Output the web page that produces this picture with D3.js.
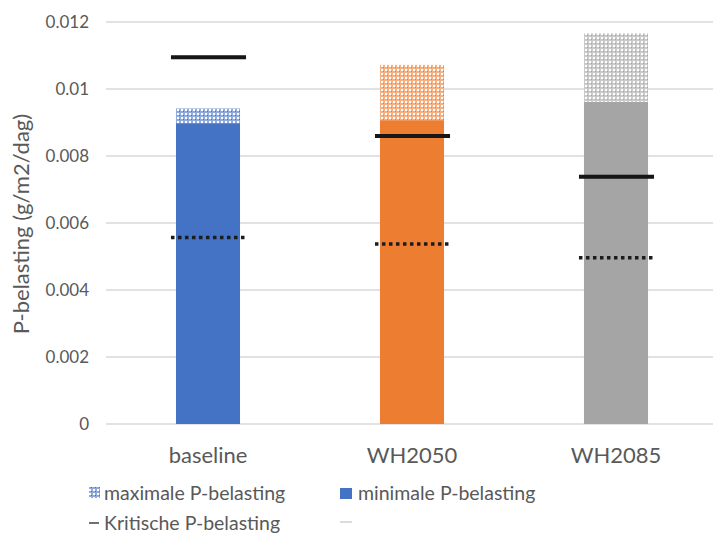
<!DOCTYPE html>
<html>
<head>
<meta charset="utf-8">
<script src="https://cdn.jsdelivr.net/npm/d3@7"></script>
<style>
  html, body { margin: 0; padding: 0; background: #fff; }
  svg { display: block; font-family: Lato, "Open Sans", sans-serif; }
</style>
</head>
<body>
<svg id="chart" width="713" height="533"></svg>
<script>
// P-belasting per scenario (g/m2/dag)
const categories = ["baseline", "WH2050", "WH2085"];
const minimaleLoad = [0.00898, 0.00907, 0.00962];
const maximaleLoad = [0.00942, 0.01072, 0.01166];
const kritischeLoad = [0.01095, 0.00860, 0.00738];
const ondergrensLoad = [0.00557, 0.00537, 0.00496];
const yTicks = [0, 0.002, 0.004, 0.006, 0.008, 0.01, 0.012];
const tickLabels = ["0", "0.002", "0.004", "0.006", "0.008", "0.01", "0.012"];
const barColors = ["#4472C4", "#ED7D31", "#A5A5A5"];
const legendLabels = ["maximale P-belasting", "minimale P-belasting", "Kritische P-belasting", ""];

const svg = d3.select("#chart");
const textColor = "#595959";
const gridColor = "#d9d9d9";

const x = d3.scaleBand()
  .domain(categories)
  .range([106, 718])
  .paddingInner(0.686)
  .paddingOuter(0.343);

const y = d3.scaleLinear().domain([0, 0.012]).range([424, 22]);

// checkered fill for the maximum segment
const defs = svg.append("defs");
barColors.forEach((c, i) => {
  const p = defs.append("pattern")
    .attr("id", "pat" + i)
    .attr("patternUnits", "userSpaceOnUse")
    .attr("width", 4).attr("height", 4);
  p.append("rect").attr("width", 4).attr("height", 4).attr("fill", "#fff");
  p.append("rect").attr("width", 4).attr("height", 4).attr("fill", c).attr("opacity", 0.6);
  p.append("rect").attr("x", 1).attr("y", 1).attr("width", 2).attr("height", 2).attr("fill", "#fff");
  p.append("rect").attr("x", 3).attr("y", 3).attr("width", 1).attr("height", 1).attr("fill", c);
});
const soft = defs.append("filter").attr("id", "soft")
  .attr("x", "-10%").attr("y", "-100%").attr("width", "120%").attr("height", "300%");
soft.append("feGaussianBlur").attr("stdDeviation", 0.6);

// gridlines
svg.append("g")
  .selectAll("line")
  .data(yTicks)
  .join("line")
  .attr("x1", 106).attr("x2", 713)
  .attr("y1", d => y(d)).attr("y2", d => y(d))
  .attr("stroke", gridColor)
  .attr("stroke-width", 1.3);

// y axis labels
const yAxis = d3.axisLeft(y)
  .tickValues(yTicks)
  .tickFormat((d, i) => tickLabels[i])
  .tickSize(0)
  .tickPadding(0);
const gy = svg.append("g").attr("transform", "translate(89,0)").call(yAxis);
gy.select(".domain").remove();
gy.selectAll("text")
  .attr("fill", textColor)
  .style("font-size", "17px")
  .style("font-family", "Lato, sans-serif");

// y axis title
svg.append("text")
  .attr("transform", "translate(29," + (y(0.006) + 1) + ") rotate(-90)")
  .attr("text-anchor", "middle")
  .attr("fill", textColor)
  .style("font-size", "22px")
  .text("P-belasting (g/m2/dag)");

// minimum bars
svg.append("g").selectAll("rect")
  .data(categories)
  .join("rect")
  .attr("x", d => x(d))
  .attr("width", x.bandwidth())
  .attr("y", (d, i) => y(minimaleLoad[i]))
  .attr("height", (d, i) => y(0) - y(minimaleLoad[i]))
  .attr("fill", (d, i) => barColors[i]);

// maximum segments stacked on top
svg.append("g").selectAll("rect")
  .data(categories)
  .join("rect")
  .attr("x", d => x(d))
  .attr("width", x.bandwidth())
  .attr("y", (d, i) => y(maximaleLoad[i]))
  .attr("height", (d, i) => y(minimaleLoad[i]) - y(maximaleLoad[i]))
  .attr("fill", (d, i) => "url(#pat" + i + ")");

// x axis
const xAxis = d3.axisBottom(x).tickSize(0).tickPadding(0);
const gx = svg.append("g").attr("transform", "translate(0," + y(0) + ")").call(xAxis);
gx.select(".domain").remove();
gx.selectAll("text")
  .attr("dy", "39px")
  .attr("fill", textColor)
  .style("font-size", "22px")
  .style("font-family", "Lato, sans-serif");

// critical load markers
svg.append("g").attr("filter", "url(#soft)").selectAll("line")
  .data(categories)
  .join("line")
  .attr("x1", d => x(d) - 5)
  .attr("x2", d => x(d) + x.bandwidth() + 6)
  .attr("y1", (d, i) => y(kritischeLoad[i]))
  .attr("y2", (d, i) => y(kritischeLoad[i]))
  .attr("stroke", "#141414")
  .attr("stroke-width", 4);

// lower dotted markers
svg.append("g").attr("filter", "url(#soft)").selectAll("line")
  .data(categories)
  .join("line")
  .attr("x1", d => x(d) - 5)
  .attr("x2", d => x(d) + x.bandwidth() + 6)
  .attr("y1", (d, i) => y(ondergrensLoad[i]))
  .attr("y2", (d, i) => y(ondergrensLoad[i]))
  .attr("stroke", "#1c1c1c")
  .attr("stroke-width", 3.5)
  .attr("stroke-dasharray", "3.5,3.5");

// legend
const legend = svg.append("g").style("font-size", "19.5px").attr("fill", textColor);
const lx = [89, 340, 89, 340];
const ly = [500, 500, 530, 530];
legend.append("rect").attr("x", lx[0]).attr("y", 487).attr("width", 11).attr("height", 11).attr("fill", "url(#pat0)");
legend.append("rect").attr("x", lx[1]).attr("y", 488).attr("width", 12).attr("height", 11).attr("fill", barColors[0]);
legend.append("line").attr("x1", lx[2]).attr("x2", lx[2] + 10).attr("y1", 523).attr("y2", 523)
  .attr("stroke", "#404040").attr("stroke-width", 1.5);
legend.append("line").attr("x1", lx[3]).attr("x2", lx[3] + 12).attr("y1", 522).attr("y2", 522)
  .attr("stroke", "#d0d0d0").attr("stroke-width", 1.5);
legendLabels.forEach((t, i) => {
  legend.append("text").attr("x", lx[i] + (i % 2 ? 18 : 15)).attr("y", ly[i]).text(t);
});
</script>
</body>
</html>
